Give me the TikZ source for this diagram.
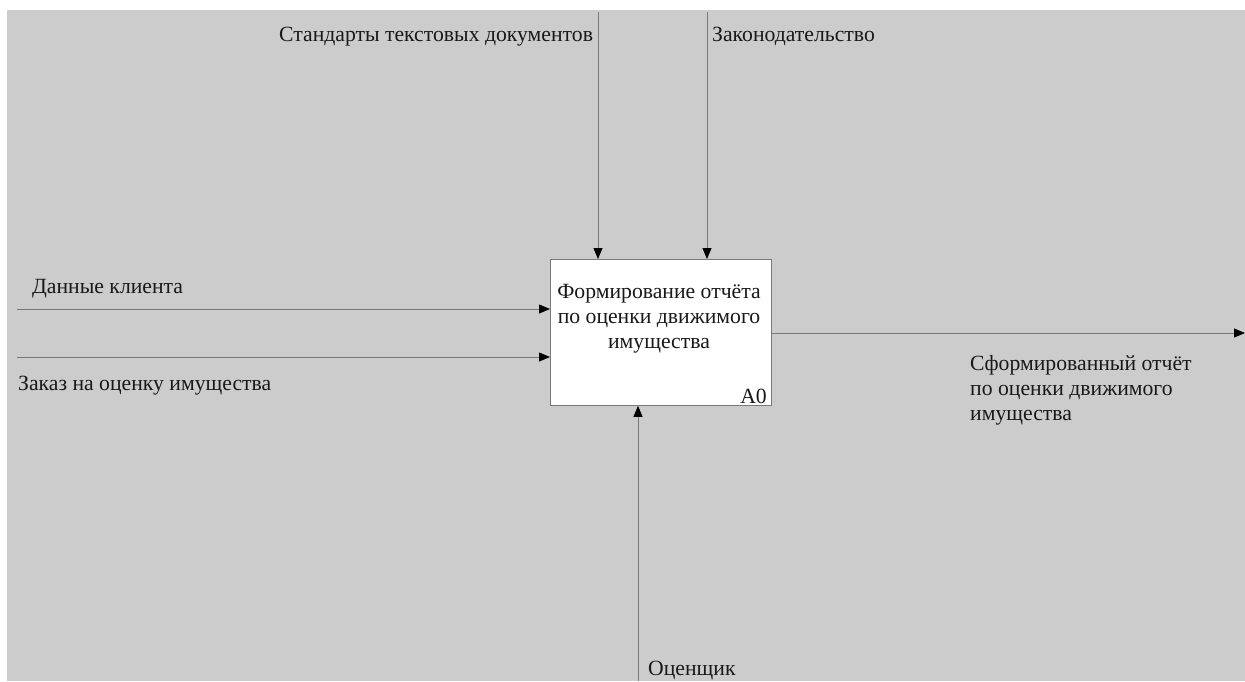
\documentclass[tikz,border=0pt]{standalone}
\usepackage{fontspec}
\setmainfont{Liberation Serif}
\usetikzlibrary{arrows.meta}
\definecolor{bg}{HTML}{CCCCCC}
\definecolor{ln}{HTML}{7A7A7A}
\begin{document}
\begin{tikzpicture}[x=1pt,y=-1pt,
  flow/.style={draw=ln, line width=0.8pt, -{Triangle[length=11pt,width=9pt,color=black]}},
  lbl/.style={font=\fontsize{21.7}{24.8}\selectfont, inner sep=0pt, text=black!90},
  func/.style={draw=ln, line width=0.8pt, fill=white, minimum width=221pt, minimum height=146pt, inner sep=0pt, anchor=north west}]
\useasboundingbox (0,0) rectangle (1245,681);
\fill[white] (0,0) rectangle (1245,681);
\fill[bg] (7,10) rectangle (1245,681);
% function box
\node[func] (A0) at (550,259) {};
\node[lbl, align=center, anchor=base] (A0t) at (659,348) {Формирование отчёта\\по оценки движимого\\имущества};
\node[lbl, anchor=base east] (A0n) at (767,403) {A0};
% free ends
\coordinate (c1) at (598,12);
\coordinate (c2) at (707,12);
\coordinate (i1) at (17,309);
\coordinate (i2) at (17,357);
\coordinate (o1) at (1245,333);
\coordinate (m1) at (638,681);
% connectors
\draw[flow] (c1) -- (c1 |- A0.north);
\draw[flow] (c2) -- (c2 |- A0.north);
\draw[flow] (i1) -- (i1 -| A0.west);
\draw[flow] (i2) -- (i2 -| A0.west);
\draw[flow] (o1 -| A0.east) -- (o1);
\draw[flow] (m1) -- (m1 |- A0.south);
% labels
\node[lbl, anchor=base west] (l1) at (279,41) {Стандарты текстовых документов};
\node[lbl, anchor=base west] (l2) at (712,41) {Законодательство};
\node[lbl, anchor=base west] (l3) at (32,293) {Данные клиента};
\node[lbl, anchor=base west] (l4) at (18,390) {Заказ на оценку имущества};
\node[lbl, anchor=base west, align=left] (l5) at (970,420) {Сформированный отчёт\\по оценки движимого\\имущества};
\node[lbl, anchor=base west] (l6) at (648,675) {Оценщик};
\end{tikzpicture}
\end{document}
